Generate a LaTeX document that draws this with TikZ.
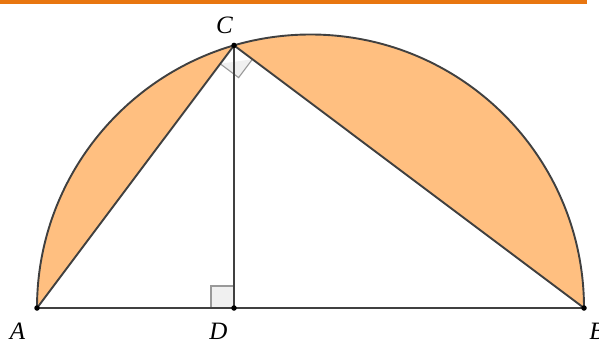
\documentclass[tikz,border=0pt]{standalone}
\usepackage{fontspec}
\setmainfont{Liberation Serif}
\usetikzlibrary{calc}
\begin{document}
\begin{tikzpicture}[x=1pt,y=-1pt,
  seg/.style={draw=black!75, line width=1.9pt},
  rmark/.style={draw=black!40, fill=black!6, line width=1.1pt},
  pt/.style={circle, fill=black, inner sep=0pt, minimum size=5.5pt},
  lbl/.style={font=\fontsize{25}{25}\selectfont\itshape, inner sep=0pt, anchor=base}]
\definecolor{lens}{RGB}{255,191,128}
\definecolor{bar}{RGB}{232,118,16}
\useasboundingbox (0,0) rectangle (599,340);
\fill[bar] (0,0) rectangle (587,4);
\coordinate (O) at (310.5,308);
\coordinate (A) at (37,308);
\coordinate (B) at (584,308);
\coordinate (C) at ($(O)+(-106.24:273.5)$);
\coordinate (D) at (234,308);
% semicircle fill
\fill[lens] (A) arc[start angle=180, end angle=360, radius=273.5] -- cycle;
\fill[white] (A) -- (C) -- (B) -- cycle;
% right angle marks
\draw[rmark] (D) -- ++(-23,0) -- ++(0,-22) -- ++(23,0);
\draw[rmark] ($(C)!23pt!(A)$) -- ($($(C)!23pt!(A)$)+($(C)!23pt!(B)$)-(C)$) -- ($(C)!23pt!(B)$);
% lines
\draw[seg] (A) arc[start angle=180, end angle=360, radius=273.5];
\draw[seg] (A) -- (B);
\draw[seg] (A) -- (C) -- (B);
\draw[seg] (C) -- (D);
\node[pt] (pA) at (A) {};
\node[pt] (pB) at (B) {};
\node[pt] (pC) at (C) {};
\node[pt] (pD) at (D) {};
\node[lbl] (lC) at (224.5,33) {C};
\node[lbl] (lA) at (17.5,339) {A};
\node[lbl] (lD) at (218.5,339) {D};
\node[lbl] (lB) at (597,339) {B};
\end{tikzpicture}
\end{document}
